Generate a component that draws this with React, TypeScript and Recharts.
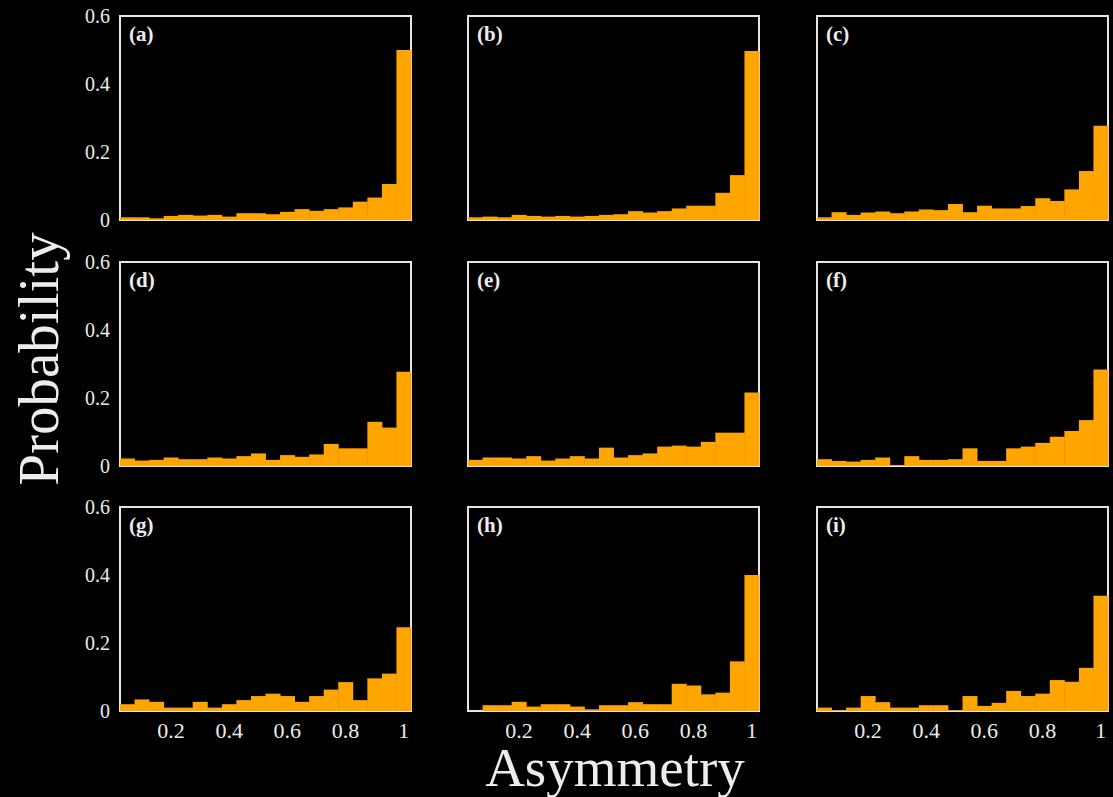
import React from 'react';
import { BarChart, Bar, XAxis, YAxis, ReferenceArea } from 'recharts';

const BIN_CENTERS = [0.05, 0.1, 0.15, 0.2, 0.25, 0.3, 0.35, 0.4, 0.45, 0.5, 0.55, 0.6, 0.65, 0.7, 0.75, 0.8, 0.85, 0.9, 0.95, 1];
const X_TICKS = [0.2, 0.4, 0.6, 0.8, 1];
const X_TICK_LABELS = ['0.2', '0.4', '0.6', '0.8', '1'];
const Y_TICKS = [0, 0.2, 0.4, 0.6];
const Y_TICK_LABELS = ['0', '0.2', '0.4', '0.6'];
const PANEL_LABELS = ['(a)', '(b)', '(c)', '(d)', '(e)', '(f)', '(g)', '(h)', '(i)'];

const probA = [0.008, 0.008, 0.005, 0.012, 0.015, 0.013, 0.015, 0.01, 0.02, 0.02, 0.017, 0.024, 0.032, 0.027, 0.032, 0.037, 0.054, 0.066, 0.106, 0.5];
const probB = [0.008, 0.01, 0.008, 0.015, 0.012, 0.01, 0.012, 0.01, 0.012, 0.015, 0.017, 0.026, 0.022, 0.026, 0.034, 0.042, 0.042, 0.08, 0.132, 0.497];
const probC = [0.008, 0.023, 0.015, 0.022, 0.025, 0.02, 0.025, 0.031, 0.029, 0.047, 0.023, 0.042, 0.034, 0.034, 0.041, 0.064, 0.056, 0.09, 0.144, 0.277];
const probD = [0.022, 0.016, 0.018, 0.025, 0.02, 0.02, 0.025, 0.022, 0.029, 0.037, 0.018, 0.032, 0.027, 0.034, 0.065, 0.052, 0.052, 0.13, 0.113, 0.277];
const probE = [0.018, 0.025, 0.025, 0.022, 0.029, 0.016, 0.022, 0.029, 0.022, 0.054, 0.025, 0.032, 0.037, 0.057, 0.06, 0.057, 0.071, 0.098, 0.098, 0.216];
const probF = [0.02, 0.015, 0.013, 0.018, 0.025, 0.003, 0.029, 0.018, 0.018, 0.02, 0.052, 0.015, 0.015, 0.052, 0.057, 0.068, 0.086, 0.103, 0.135, 0.284];
const probG = [0.02, 0.034, 0.027, 0.01, 0.01, 0.027, 0.01, 0.02, 0.032, 0.044, 0.051, 0.044, 0.027, 0.044, 0.063, 0.085, 0.032, 0.096, 0.11, 0.246];
const probH = [0.0, 0.017, 0.017, 0.027, 0.013, 0.02, 0.02, 0.013, 0.005, 0.017, 0.017, 0.026, 0.02, 0.02, 0.08, 0.075, 0.049, 0.054, 0.146, 0.4];
const probI = [0.01, 0.003, 0.01, 0.044, 0.026, 0.01, 0.01, 0.017, 0.017, 0.003, 0.044, 0.015, 0.024, 0.059, 0.044, 0.051, 0.091, 0.086, 0.127, 0.339];

const SERIES = [probA, probB, probC, probD, probE, probF, probG, probH, probI];

const FONT = '"Liberation Serif", "Times New Roman", serif';
const TEXT_COLOR = '#ececec';
const BAR_COLOR = '#FFA500';

const FRAME_LEFTS = [120, 468, 817];
const FRAME_TOPS = [16, 262, 507];
const FRAME_W = 291;
const FRAME_H = 204;
const M_LEFT = 60;
const M_TOP = 10;
const M_RIGHT = 10;
const X_AXIS_H = 34;

function Panel({ idx }: { idx: number }) {
  const row = Math.floor(idx / 3);
  const col = idx % 3;
  const data = BIN_CENTERS.map((x, i) => ({ x, p: SERIES[idx][i] }));
  const showY = col === 0;
  const showX = row === 2;
  return (
    <div style={{ position: 'absolute', left: FRAME_LEFTS[col] - M_LEFT, top: FRAME_TOPS[row] - M_TOP }}>
      <BarChart
        width={M_LEFT + FRAME_W + M_RIGHT}
        height={M_TOP + FRAME_H + X_AXIS_H}
        data={data}
        margin={{ top: M_TOP, right: M_RIGHT, left: 0, bottom: 0 }}
        barCategoryGap={0}
        barGap={0}
      >
        <XAxis
          dataKey="x"
          type="category"
          height={X_AXIS_H}
          interval={0}
          axisLine={false}
          tickLine={false}
          tickSize={0}
          tickMargin={11}
          tick={showX ? { fill: TEXT_COLOR, fontSize: 22, fontFamily: FONT } : false}
          tickFormatter={(v: number) => {
            const k = X_TICKS.indexOf(v);
            return k >= 0 ? X_TICK_LABELS[k] : '';
          }}
        />
        <YAxis
          type="number"
          domain={[0, 0.6]}
          ticks={Y_TICKS}
          width={M_LEFT}
          axisLine={false}
          tickLine={false}
          tickSize={0}
          tickMargin={10}
          interval={0}
          tick={showY ? { fill: TEXT_COLOR, fontSize: 20, fontFamily: FONT } : false}
          tickFormatter={(v: number) => {
            const k = Y_TICKS.indexOf(v);
            return k >= 0 ? Y_TICK_LABELS[k] : String(v);
          }}
        />
        <Bar dataKey="p" fill={BAR_COLOR} isAnimationActive={false} />
        <ReferenceArea
          x1={BIN_CENTERS[0]}
          x2={BIN_CENTERS[BIN_CENTERS.length - 1]}
          y1={0}
          y2={0.6}
          fill="none"
          fillOpacity={0}
          stroke="#e6e6e6"
          strokeWidth={2}
          ifOverflow="visible"
        />
      </BarChart>
    </div>
  );
}

export default function App() {
  return (
    <div style={{ position: 'fixed', left: 0, top: 0, width: 1113, height: 797, background: '#000', overflow: 'hidden' }}>
      {SERIES.map((_, i) => (
        <Panel key={i} idx={i} />
      ))}
      <svg width={1113} height={797} style={{ position: 'absolute', left: 0, top: 0, pointerEvents: 'none' }}>
        {PANEL_LABELS.map((lab, i) => {
          const row = Math.floor(i / 3);
          const col = i % 3;
          return (
            <text
              key={lab}
              x={FRAME_LEFTS[col] + 9}
              y={FRAME_TOPS[row] + 25}
              fill={TEXT_COLOR}
              fontFamily={FONT}
              fontWeight="bold"
              fontSize={21}
            >
              {lab}
            </text>
          );
        })}
        <text
          x={0}
          y={0}
          transform="translate(58, 359) rotate(-90)"
          textAnchor="middle"
          fill={TEXT_COLOR}
          fontFamily={FONT}
          fontSize={57}
        >
          Probability
        </text>
        <text x={615} y={786} textAnchor="middle" fill={TEXT_COLOR} fontFamily={FONT} fontSize={55}>
          Asymmetry
        </text>
      </svg>
    </div>
  );
}
